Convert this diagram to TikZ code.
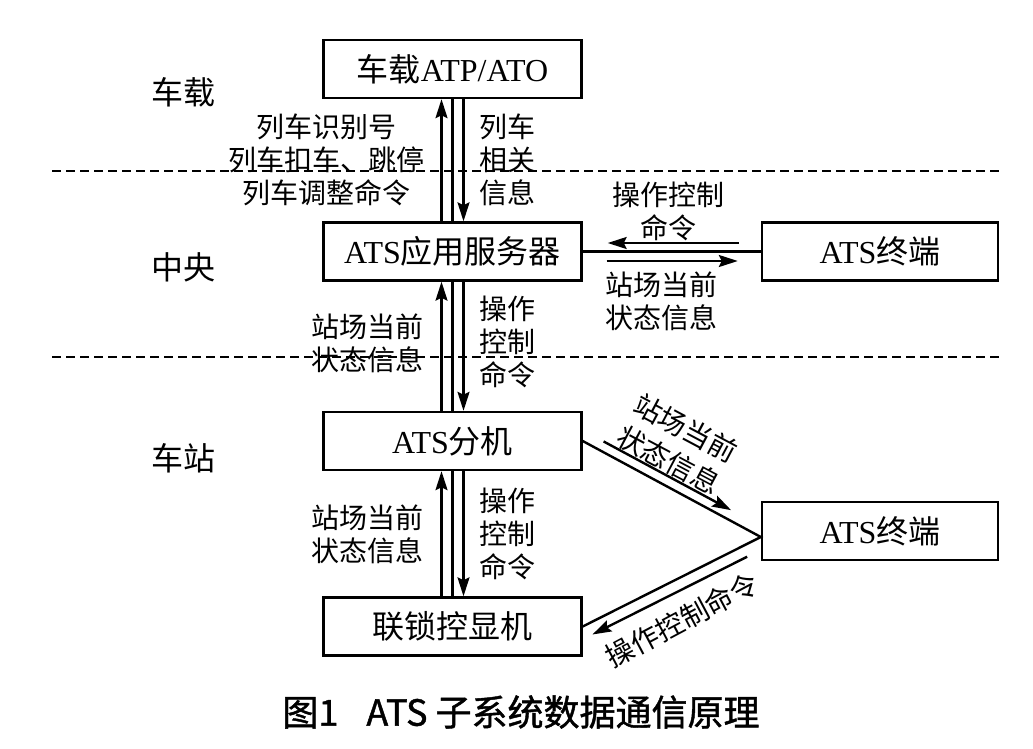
\documentclass[tikz,border=0pt]{standalone}
\usepackage{fontspec}
\setmainfont{Liberation Serif}
\newfontfamily\cjk{Noto Sans CJK SC}
\newfontfamily\capfont[FakeBold=1.2]{Noto Sans CJK SC}
\usetikzlibrary{calc,positioning,arrows.meta}
\newcommand{\zh}[1]{{\cjk #1}}

\begin{document}
\begin{tikzpicture}[x=1pt,y=-1pt,
    box/.style={draw, line width=2.4pt, minimum width=258pt, minimum height=58pt,
      inner sep=0pt, font=\fontsize{32}{36}\selectfont},
    tbox/.style={box, minimum width=236pt},
    lab/.style={font=\cjk\fontsize{28}{33}\selectfont, align=center, inner sep=0pt},
    zone/.style={font=\cjk\fontsize{32}{36}\selectfont, inner sep=0pt},
    link/.style={line width=2.4pt},
    arr/.style={line width=2.4pt, -{Stealth[length=19pt,width=12pt,inset=3pt]}},
    sep/.style={line width=2pt, dash pattern=on 9pt off 5pt}]
    \useasboundingbox (0,0) rectangle (1033,749);

    % zones
    \draw[sep] (52,171) -- (1000,171);
    \draw[sep] (52,357) -- (1000,357);
    \node[zone] (onboard) at (183,92) {车载};
    \node[zone] (central) at (183,267) {中央};
    \node[zone] (station) at (183,458) {车站};

    % boxes
    \node[box] (atp) at (452.5,69) {\zh{车载}ATP/ATO};
    \node[box] (srv) at (452.5,251.5) {ATS\zh{应用服务器}};
    \node[box] (sub) at (452.5,441) {ATS\zh{分机}};
    \node[box] (ilk) at (452.5,626.5) {\zh{联锁控显机}};
    \node[tbox] (term) at (880,251.5) {ATS\zh{终端}};
    \node[tbox] (termb) at (880,531) {ATS\zh{终端}};

    % atp <-> srv
    \draw[link] (atp.south) -- (srv.north);
    \draw[arr] ([xshift=-11pt]srv.north) -- ([xshift=-11pt]atp.south);
    \draw[arr] ([xshift=11pt]atp.south) -- ([xshift=11pt]srv.north);
    \node[lab] (idtxt) at (326,160) {列车识别号\\列车扣车、跳停\\列车调整命令};
    \node[lab] (trtxt) at (507,160) {列车\\相关\\信息};

    % srv <-> term
    \draw[link] (srv.east) -- (term.west);
    \draw[arr] ($(term.west)+(-22,-8.5)$) -- ($(srv.east)+(25,-8.5)$);
    \draw[arr] ($(srv.east)+(24,9.5)$) -- ($(term.west)+(-23,9.5)$);
    \node[lab] (cmda) at (668,211) {操作控制\\命令};
    \node[lab] (staa) at (661,301.5) {站场当前\\状态信息};

    % srv <-> sub
    \draw[link] (srv.south) -- (sub.north);
    \draw[arr] ([xshift=-11pt]sub.north) -- ([xshift=-11pt]srv.south);
    \draw[arr] ([xshift=11pt]srv.south) -- ([xshift=11pt]sub.north);
    \node[lab] (stab) at (367,343) {站场当前\\状态信息};
    \node[lab] (cmdb) at (507,342) {操作\\控制\\命令};

    % sub <-> ilk
    \draw[link] (sub.south) -- (ilk.north);
    \draw[arr] ([xshift=-11pt]ilk.north) -- ([xshift=-11pt]sub.south);
    \draw[arr] ([xshift=11pt]sub.south) -- ([xshift=11pt]ilk.north);
    \node[lab] (stac) at (367,534) {站场当前\\状态信息};
    \node[lab] (cmdc) at (507,534) {操作\\控制\\命令};

    % station terminal
    \coordinate (vtx) at ($(termb.west)+(0,6)$);
    \draw[link] (sub.east) -- (vtx) -- (ilk.east);
    \draw[arr] ($(sub.east)!0.092!(vtx)+(4.5,-8.4)$) -- ($(sub.east)!0.808!(vtx)+(4.5,-8.4)$);
    \draw[arr] ($(vtx)!0.105!(ilk.east)+(5.1,10.3)$) -- ($(vtx)!0.974!(ilk.east)+(5.1,10.3)$);
    \node[lab, font=\cjk\fontsize{28}{36}\selectfont, rotate=-28] (stad) at (677,444)
      {站场当前\\状态信息};
    \node[lab, rotate=28] (cmdd) at (682,620) {操作控制命令};

    \node[font=\capfont\fontsize{36}{40}\selectfont, inner sep=0pt] (cap) at (521,712)
      {图1\hspace{28pt}ATS 子系统数据通信原理};
\end{tikzpicture}
\end{document}
